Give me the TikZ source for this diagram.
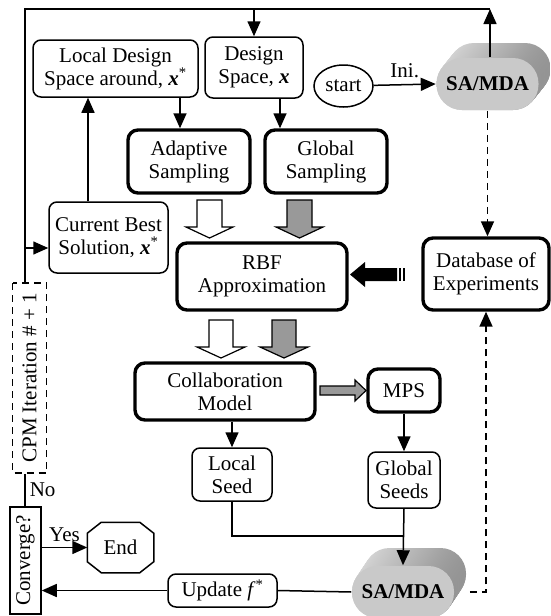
\documentclass[tikz,border=0pt]{standalone}
\usepackage{fontspec}
\setmainfont{Liberation Serif}
\usetikzlibrary{arrows.meta,shapes.geometric,calc}
\begin{document}
\begin{tikzpicture}[x=1pt,y=-1pt,
  font=\fontsize{21}{23}\selectfont,
  line width=1.5pt,
  >={Triangle[length=15pt,width=13pt]},
  thinbox/.style={draw,rounded corners=8pt,line width=1.5pt,align=center,inner sep=0pt},
  thickbox/.style={draw,rounded corners=10pt,line width=3.4pt,align=center,inner sep=0pt},
  stadium/.style={rectangle,rounded corners=25.5pt,minimum width=102pt,minimum height=52pt,inner sep=0pt},
  extr/.style={stadium,left color=black!15,right color=black!42},
  front/.style={stadium,fill=black!21,font=\fontsize{21}{23}\selectfont\bfseries},
  blockarrow/.style={draw,line width=1.2pt,line join=miter},
  dashline/.style={line width=1.6pt,dash pattern=on 7pt off 5pt}
]
\useasboundingbox (0,0) rectangle (550,616);

% nodes
\node[thinbox, minimum width=165pt, minimum height=57pt] (ld) at (115.5,68.5)
  {Local Design\\Space around, \textbf{\textit{x}}\textsuperscript{*}};
\node[thinbox, minimum width=98pt, minimum height=61pt] (ds) at (254,67.5)
  {Design\\Space, \textbf{\textit{x}}};
\node[draw, ellipse, minimum width=59pt, minimum height=42pt, inner sep=0pt] (st) at (343.5,86) {start};
\node[thickbox, minimum width=122pt, minimum height=63pt] (as) at (189,161.5) {Adaptive\\Sampling};
\node[thickbox, minimum width=122pt, minimum height=63pt] (gs) at (326,161.5) {Global\\Sampling};
\node[thinbox, minimum width=119pt, minimum height=71pt] (cb) at (108.5,237.5)
  {Current Best\\Solution, \textbf{\textit{x}}\textsuperscript{*}};
\node[thickbox, minimum width=170pt, minimum height=67pt] (rbf) at (262,276.5) {RBF\\Approximation};
\node[thickbox, minimum width=126pt, minimum height=72pt] (db) at (486,274) {Database of\\Experiments};
\node[thickbox, minimum width=180pt, minimum height=57pt] (cm) at (225,391.5) {Collaboration\\Model};
\node[thickbox, minimum width=72pt, minimum height=43pt] (mps) at (404,390.5) {MPS};
\node[thinbox, minimum width=80pt, minimum height=53pt] (lsd) at (232,474.5) {Local\\Seed};
\node[thinbox, minimum width=72pt, minimum height=56pt] (gsd) at (404,480) {Global\\Seeds};
\node[thinbox, minimum width=109pt, minimum height=33pt] (upd) at (222.5,590.5) {Update \textit{f}\textsuperscript{*}};
\node[minimum width=65pt, minimum height=49pt, inner sep=0pt] (en) at (120.5,547.5) {End};
\draw ($(en.north west)+(14,0)$) -- ($(en.north east)+(-14,0)$) -- ($(en.north east)+(0,11)$)
  -- ($(en.south east)+(0,-11)$) -- ($(en.south east)+(-14,0)$) -- ($(en.south west)+(14,0)$)
  -- ($(en.south west)+(0,-11)$) -- ($(en.north west)+(0,11)$) -- cycle;
\node[draw, rotate=90, minimum width=107pt, minimum height=31pt, inner sep=0pt] (cv) at (25.5,560.5) {Converge?};
\node[draw, dashline, rotate=90, minimum width=190pt, minimum height=34pt, inner sep=0pt] (cpm) at (29.5,378) {CPM Iteration \# + 1};

% cylinders
\foreach \k in {0,...,24} {
  \pgfmathsetmacro\dx{12*(24-\k)/24}
  \pgfmathsetmacro\dy{-15*(24-\k)/24}
  \node[extr] at (487.5+\dx,84+\dy) {};
  \pgfmathsetmacro\ey{-18*(24-\k)/24}
  \node[extr] at (403+\dx,592+\ey) {};
}
\node[front] (sa1) at (487.5,84) {SA/MDA};
\node[front] (sa2) at (403,592) {SA/MDA};

% connectors
\coordinate (tl) at (25,9);
\coordinate (tr) at (490,9);
\draw (tr) -- (tl) -- (tl |- cpm.east);
\coordinate (cbin) at ($(cb.west)+(0,10.5)$);
\draw[->] (tl |- cbin) -- (cbin);
\draw (tl |- cpm.west) -- node[right, inner sep=4pt] {No} (tl |- cv.east);
\draw[->] (ds.north |- tl) -- (ds.north);
\draw[->] (sa1.north -| tr) -- (tr);
\draw[->] (st) -- node[above, inner sep=6pt] {Ini.} (sa1.west);
\coordinate (a1) at ($(as.north)+(-9,0)$);
\draw[->] (a1 |- ld.south) -- (a1);
\coordinate (a2) at ($(ds.south)+(26,0)$);
\draw[->] (a2) -- (a2 |- gs.north);
\coordinate (a3) at ($(cb.north)+(-20.5,0)$);
\draw[->] (a3) -- (a3 |- ld.south);
\draw[->] (lsd.north |- cm.south) -- (lsd.north);
\draw[->] (mps.south) -- (gsd.north);
\coordinate (jn) at ($(gsd.south)+(0,27)$);
\draw (lsd.south) |- (jn);
\draw[->] (gsd.south) -- (sa2.north);
\draw (sa2.west) -- (upd.east);
\draw[->] (upd.west) -- (upd.west -| cv.south);
\draw[->] (cv.south |- en.west) -- node[above, inner sep=5pt] {Yes} (en.west);
\draw[dashline, ->] ($(sa2.east)+(15,0)$) -| (db.south);
\draw[dashline, ->] (sa1.south) -- (sa1.south |- db.north);

% block arrows
\draw[blockarrow, fill=white] (197,200) -- (222,200) -- (222,227) -- (233,227) -- (209.5,238) -- (186,227) -- (197,227) -- cycle;
\draw[blockarrow, fill=black!40] (287,200) -- (312,200) -- (312,227) -- (323,227) -- (299.5,238) -- (276,227) -- (287,227) -- cycle;
\draw[blockarrow, fill=white] (209,320) -- (233,320) -- (233,347) -- (245,347) -- (221,358) -- (197,347) -- (209,347) -- cycle;
\draw[blockarrow, fill=black!40] (272,320) -- (296,320) -- (296,347) -- (308,347) -- (284,358) -- (260,347) -- (272,347) -- cycle;
\draw[blockarrow, fill=black!40] (320,386) -- (355,386) -- (355,380) -- (366,390.5) -- (355,401) -- (355,395) -- (320,395) -- cycle;
\fill (350,274.5) -- (365,262) -- (365,268) -- (397,268) -- (397,281) -- (365,281) -- (365,287) -- cycle;
\fill (398.5,268) rectangle (401,281);
\fill (402.5,268) rectangle (405,281);
\end{tikzpicture}
\end{document}
